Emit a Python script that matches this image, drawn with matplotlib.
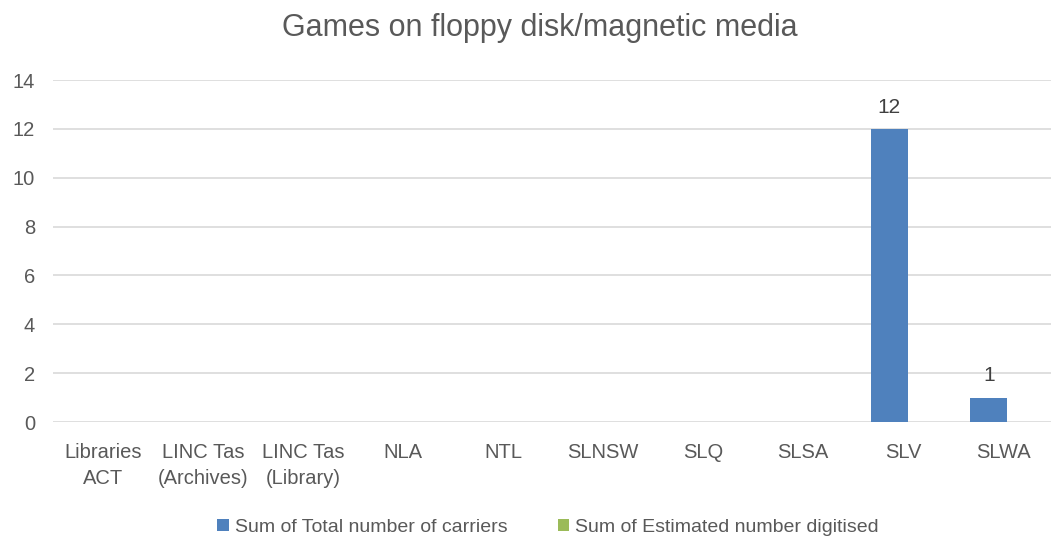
import matplotlib.pyplot as plt
import numpy as np

plt.rcParams['font.family'] = ['Liberation Sans', 'DejaVu Sans']

categories = ['Libraries\nACT', 'LINC Tas\n(Archives)', 'LINC Tas\n(Library)', 'NLA', 'NTL',
              'SLNSW', 'SLQ', 'SLSA', 'SLV', 'SLWA']
total_carriers = [0, 0, 0, 0, 0, 0, 0, 0, 12, 1]
digitised = [0, 0, 0, 0, 0, 0, 0, 0, 0, 0]

txt = '#595959'
fig = plt.figure(figsize=(10.51, 5.43), dpi=100)
ax = fig.add_axes([53/1051, 1-422/543, 1000/1051, 342/543])

x = np.arange(len(categories))
w = 0.37
b1 = ax.bar(x - 0.14, total_carriers, w, color='#4f81bd', label='Sum of Total number of carriers', zorder=3)
b2 = ax.bar(x + 0.23, digitised, w, color='#9bbb59', label='Sum of Estimated number digitised', zorder=3)

for rect, v in zip(b1, total_carriers):
    if v:
        ax.text(rect.get_x() + rect.get_width()/2, v + 0.5, str(v), ha='center', va='bottom',
                fontsize=15, color='#404040')

ax.set_ylim(0, 14)
ax.set_xlim(-0.5, len(categories) - 0.5)
ax.set_yticks(range(0, 15, 2))
ax.set_xticks(x)
ax.set_xticklabels(categories, linespacing=1.45)
ax.tick_params(axis='both', length=0, labelsize=14.5, colors=txt)
ax.tick_params(axis='x', pad=15)
ax.tick_params(axis='y', pad=13)
ax.grid(axis='y', color='#d9d9d9', linewidth=1.2, zorder=0)
for s in ax.spines.values():
    s.set_visible(False)

fig.text(0.514, 0.948, 'Games on floppy disk/magnetic media', ha='center', va='center',
         fontsize=22, color=txt)
ax.legend(loc='center', bbox_to_anchor=(0.495, -0.308), ncol=2, frameon=False,
          fontsize=14, labelcolor=txt, handlelength=0.6, handleheight=0.6,
          handletextpad=0.3, columnspacing=2.6)

fig.savefig('out.png', dpi=100)
